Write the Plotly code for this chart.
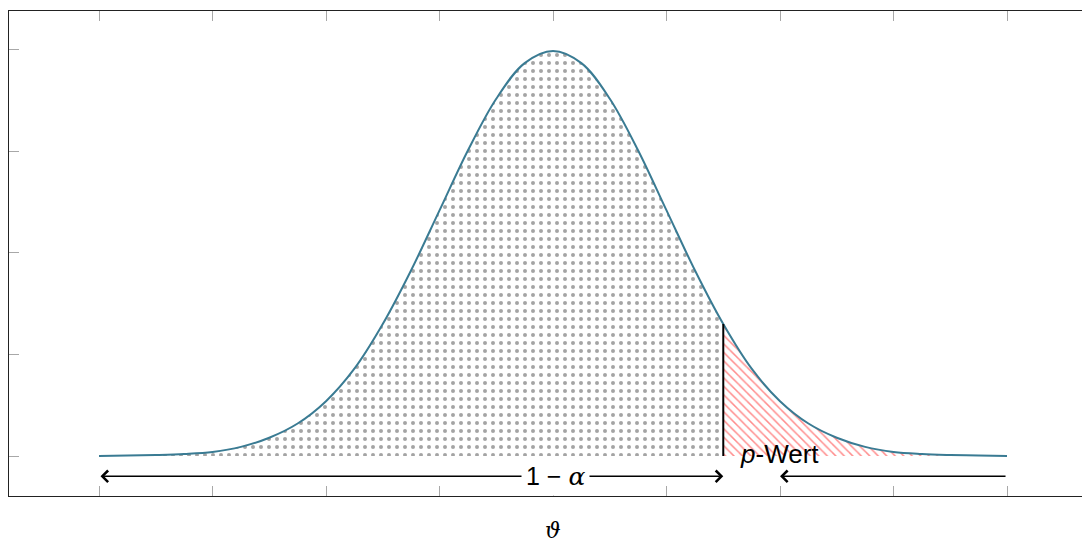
import plotly.graph_objects as go

# values (density curve)
theta = [-4.0, -3.75, -3.5, -3.25, -3.0, -2.75, -2.5, -2.25, -2.0, -1.75, -1.5, -1.25,
         -1.0, -0.75, -0.5, -0.25, 0.0, 0.25, 0.5, 0.75, 1.0, 1.25, 1.5, 1.75,
         2.0, 2.25, 2.5, 2.75, 3.0, 3.25, 3.5, 3.75, 4.0]
density = [0.0001, 0.0004, 0.001, 0.002, 0.004, 0.009, 0.018, 0.032, 0.054, 0.086, 0.130, 0.183,
           0.242, 0.301, 0.352, 0.387, 0.399, 0.387, 0.352, 0.301, 0.242, 0.183, 0.130, 0.086,
           0.054, 0.032, 0.018, 0.009, 0.004, 0.002, 0.001, 0.0004, 0.0001]
cutoff = 1.5
cutoff_density = 0.130
arrow_left = [-4.0, 1.5]
arrow_right = [4.0, 2.0]
arrow_y = -0.02
x_ticks = [-4, -3, -2, -1, 0, 1, 2, 3, 4]
y_ticks = [0.0, 0.1, 0.2, 0.3, 0.4]

curve_color = "#3a7b93"

left_x = [t for t in theta if t <= cutoff]
left_y = [d for t, d in zip(theta, density) if t <= cutoff]
right_x = [t for t in theta if t >= cutoff]
right_y = [d for t, d in zip(theta, density) if t >= cutoff]

fig = go.Figure()
fig.add_trace(go.Scatter(
    x=left_x, y=left_y, mode="lines", line=dict(width=0, shape="spline"),
    fill="tozeroy", fillcolor="white",
    fillpattern=dict(shape=".", fgcolor="#4a4a4a", bgcolor="white", size=8, solidity=0.2),
    hoverinfo="skip", showlegend=False))
fig.add_trace(go.Scatter(
    x=right_x, y=right_y, mode="lines", line=dict(width=0, shape="spline"),
    fill="tozeroy", fillcolor="white",
    fillpattern=dict(shape="\\", fgcolor="#ff1a1a", bgcolor="white", size=6, solidity=0.25),
    hoverinfo="skip", showlegend=False))
fig.add_trace(go.Scatter(
    x=theta, y=density, mode="lines", line=dict(color=curve_color, width=2, shape="spline"),
    hoverinfo="skip", showlegend=False))
fig.add_trace(go.Scatter(
    x=[cutoff, cutoff], y=[0, cutoff_density], mode="lines",
    line=dict(color="black", width=2), hoverinfo="skip", showlegend=False))

# arrows
fig.add_annotation(x=arrow_left[1], y=arrow_y, ax=arrow_left[0], ay=arrow_y,
                   xref="x", yref="y", axref="x", ayref="y", text="",
                   showarrow=True, arrowhead=4, startarrowhead=4, arrowside="end+start",
                   arrowwidth=1.6, arrowsize=1.4, startarrowsize=1.4, arrowcolor="black")
fig.add_annotation(x=arrow_right[1], y=arrow_y, ax=arrow_right[0], ay=arrow_y,
                   xref="x", yref="y", axref="x", ayref="y", text="",
                   showarrow=True, arrowhead=4, arrowwidth=1.6, arrowsize=1.4, arrowcolor="black")
fig.add_annotation(x=0.02, y=arrow_y, xref="x", yref="y",
                   text="1 − <span style=\"font-family:'DejaVu Serif'\"><i>α</i></span>",
                   showarrow=False, bgcolor="white", borderpad=4,
                   font=dict(family="Liberation Sans", size=25, color="black"))
fig.add_annotation(x=1.63, y=0.002, xref="x", yref="y", text="<i>p</i>-Wert",
                   showarrow=False, xanchor="left", yanchor="middle",
                   font=dict(family="Liberation Sans", size=26, color="black"))
fig.add_annotation(x=0, y=0, xref="x", yref="paper", text="<i>ϑ</i>",
                   showarrow=False, yanchor="middle", yshift=-34,
                   font=dict(family="DejaVu Serif", size=22, color="black"))

fig.update_xaxes(range=[-4.793, 4.731], tickvals=x_ticks, showticklabels=False,
                 ticks="inside", ticklen=10, tickwidth=1, tickcolor="#a8a8a8",
                 showline=True, linecolor="#222", linewidth=1, mirror="ticks",
                 showgrid=False, zeroline=False)
fig.update_yaxes(range=[-0.0394, 0.4384], tickvals=y_ticks, showticklabels=False,
                 ticks="inside", ticklen=10, tickwidth=1, tickcolor="#a8a8a8",
                 showline=True, linecolor="#222", linewidth=1,
                 showgrid=False, zeroline=False)
fig.update_layout(width=1082, height=534, margin=dict(l=1, r=0, t=3, b=46),
                  plot_bgcolor="white", paper_bgcolor="white")
fig.write_html("out.html")
